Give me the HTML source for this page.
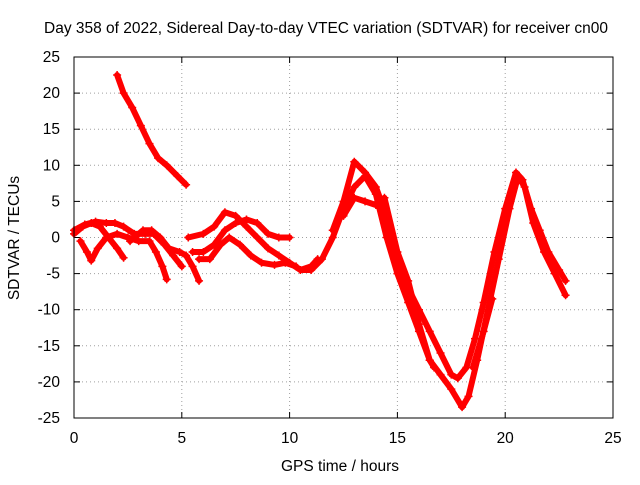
<!DOCTYPE html>
<html><head><meta charset="utf-8"><style>
body{margin:0;background:#fff;}
svg{font-family:"Liberation Sans",sans-serif;font-size:15.5px;}
</style></head><body>
<svg id="chart" width="640" height="480" xmlns="http://www.w3.org/2000/svg">
<rect width="640" height="480" fill="#fff"/>
<text x="326" y="33" text-anchor="middle">Day 358 of 2022, Sidereal Day-to-day VTEC variation (SDTVAR) for receiver cn00</text>
<g id="grid"></g><g id="ticks"></g><g id="series"></g>
<rect x="74" y="57" width="539" height="361" fill="none" stroke="#000" stroke-width="1"/>
<text x="340" y="471" text-anchor="middle">GPS time / hours</text>
<text transform="translate(19,238) rotate(-90)" text-anchor="middle">SDTVAR / TECUs</text>
</svg>
<script>
const xTicks=[0,5,10,15,20,25];
const yTicks=[25,20,15,10,5,0,-5,-10,-15,-20,-25];
const trackA=[[2.0,22.5],[2.3,20],[2.7,18],[3.1,15.5],[3.5,13],[3.9,11],[4.3,10],[4.8,8.5],[5.2,7.3]];
const trackB=[[0,0.5],[0.4,1.5],[0.8,2],[1.2,1.5],[1.6,0],[2.0,-1.5],[2.3,-2.8]];
const trackC=[[0.3,-0.5],[0.6,-2],[0.8,-3.2],[1.1,-1.5],[1.5,0],[2,0.5],[2.5,0],[3,-0.5],[3.5,-0.5],[3.8,-2],[4.1,-4],[4.3,-5.8]];
const trackD=[[0,1],[0.5,1.8],[1,2.2],[1.5,2],[1.9,2],[2.3,1.5],[2.8,0.5],[3.3,0.5],[3.7,0.5],[4.2,-1],[4.6,-2.5],[5.0,-4]];
const trackE=[[2.6,-0.5],[3.2,1],[3.6,1],[4.0,0],[4.4,-1.5],[4.9,-2],[5.2,-2.5],[5.5,-4],[5.8,-6]];
const trackF=[[5.3,0],[6,0.5],[6.5,1.5],[7,3.5],[7.5,3],[8,1.5],[8.5,0],[9,-1.5],[9.5,-2.5],[10,-3.5],[10.5,-4.5],[11,-4],[11.3,-3]];
const trackG=[[5.5,-2],[6,-2],[6.5,-1],[7,1],[7.5,2],[8,2.5],[8.5,2],[9,0.5],[9.5,0],[10,0]];
const trackH=[[5.8,-3],[6.3,-3],[6.8,-1],[7.2,0],[7.7,-1],[8.2,-2.5],[8.7,-3.5],[9.3,-3.8],[9.8,-3.5],[10.3,-4]];
const trackI=[[10.5,-4.5],[11,-4.5],[11.5,-3],[12,0],[12.5,4],[13,7],[13.5,8.5],[14,6],[14.5,0],[15,-5],[15.5,-9],[16,-13],[16.5,-17],[17,-19],[17.5,-21],[18,-23.5],[18.3,-22],[18.7,-17],[19.2,-10],[19.7,-3],[20.2,4],[20.6,8.5],[20.9,7],[21.3,2],[21.8,-2],[22.3,-5],[22.8,-8]];
const trackJ=[[12,1],[12.5,5],[13,10.5],[13.5,9],[14,7],[14.5,3],[15,-3],[15.5,-7],[16,-10],[16.5,-13],[17,-16],[17.5,-19],[17.8,-19.5],[18.2,-18],[18.6,-14],[19,-9],[19.5,-2],[20,4],[20.5,9],[20.8,8],[21.2,4],[21.6,1],[22,-2],[22.5,-4.5],[22.8,-6]];
const trackK=[[12.5,3],[13,5.5],[13.5,5],[14,4.5],[14.4,5.5],[15,-2],[15.5,-6],[16,-12],[16.5,-17],[16.7,-18]];
const trackL=[[18.5,-18],[19,-13],[19.4,-8.5]];
const tracks=[trackA,trackB,trackC,trackD,trackE,trackF,trackG,trackH,trackI,trackJ,trackK,trackL];
const X0=74,X1=613,Y0=418,Y1=57;
const sx=v=>X0+(v-0)/(25-0)*(X1-X0);
const sy=v=>Y0-(v+25)/50*(Y0-Y1);
const NS="http://www.w3.org/2000/svg";
function mk(tag,attrs,parent){const e=document.createElementNS(NS,tag);for(const k in attrs)e.setAttribute(k,attrs[k]);parent.appendChild(e);return e;}
const grid=document.getElementById('grid'),ticks=document.getElementById('ticks'),ser=document.getElementById('series');
xTicks.forEach(t=>{const x=sx(t);
 if(t>0&&t<25){const g=mk('line',{x1:x,x2:x,y1:Y1,y2:Y0,stroke:'#a0a0a0','stroke-dasharray':'1,3'},grid);
 
 }
 mk('line',{x1:x,x2:x,y1:Y0,y2:Y0-6,stroke:'#000'},ticks);mk('line',{x1:x,x2:x,y1:Y1,y2:Y1+6,stroke:'#000'},ticks);
 const l=mk('text',{x:x,y:443,'text-anchor':'middle'},ticks);l.textContent=t;
 
 });
yTicks.forEach(t=>{const y=sy(t);
 if(t>-25&&t<25){const g=mk('line',{x1:X0,x2:X1,y1:y,y2:y,stroke:'#a0a0a0','stroke-dasharray':'1,3'},grid);
 
 }
 mk('line',{x1:X0,x2:X0+6,y1:y,y2:y,stroke:'#000'},ticks);mk('line',{x1:X1,x2:X1-6,y1:y,y2:y,stroke:'#000'},ticks);
 const l=mk('text',{x:60,y:y+5,'text-anchor':'end'},ticks);l.textContent=t;
 
 });
tracks.forEach((tr,i)=>{
 const p=mk('polyline',{points:tr.map(d=>sx(d[0])+','+sy(d[1])).join(' '),fill:'none',stroke:'#ff0000','stroke-width':6,'stroke-linejoin':'round','stroke-linecap':'round'},ser);
 
 
 tr.forEach(d=>{const x=sx(d[0]),y=sy(d[1]);
  const m=mk('path',{d:`M${x-4},${y}H${x+4}M${x},${y-4}V${y+4}`,stroke:'#ff0000','stroke-width':1.5},ser);
  
  });
});
</script>
</body></html>
